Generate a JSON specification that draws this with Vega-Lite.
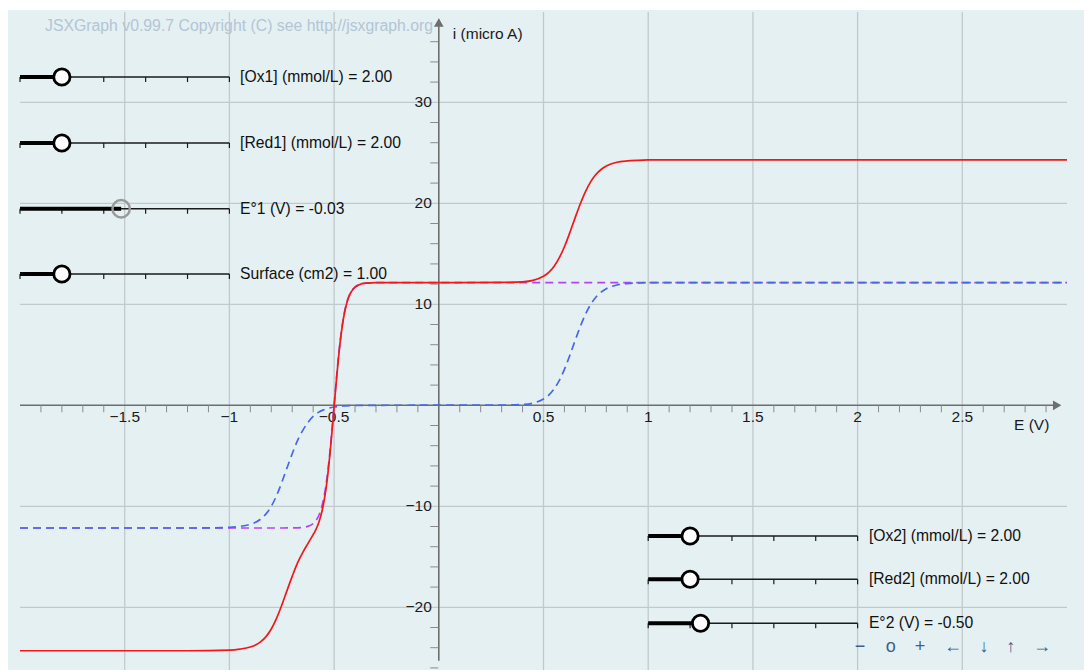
{
  "$schema": "https://vega.github.io/schema/vega-lite/v6.json",
  "width": 1076,
  "height": 660,
  "autosize": {"type": "none"},
  "padding": {"left": 8, "top": 10, "right": 0, "bottom": 0},
  "background": "#ffffff",
  "config": {"view": {"fill": "#e5f0f3", "stroke": null}, "text": {"font": "Liberation Sans"}},
  "datasets": {
    "grid": [
      {"x0": -1.5, "x1": -1.5, "y0": -26.2, "y1": 38.94},
      {"x0": -1, "x1": -1, "y0": -26.2, "y1": 38.94},
      {"x0": -0.5, "x1": -0.5, "y0": -26.2, "y1": 38.94},
      {"x0": 0.5, "x1": 0.5, "y0": -26.2, "y1": 38.94},
      {"x0": 1, "x1": 1, "y0": -26.2, "y1": 38.94},
      {"x0": 1.5, "x1": 1.5, "y0": -26.2, "y1": 38.94},
      {"x0": 2, "x1": 2, "y0": -26.2, "y1": 38.94},
      {"x0": 2.5, "x1": 2.5, "y0": -26.2, "y1": 38.94},
      {"x0": -2, "x1": 3, "y0": -20, "y1": -20},
      {"x0": -2, "x1": 3, "y0": -10, "y1": -10},
      {"x0": -2, "x1": 3, "y0": 10, "y1": 10},
      {"x0": -2, "x1": 3, "y0": 20, "y1": 20},
      {"x0": -2, "x1": 3, "y0": 30, "y1": 30}
    ],
    "axes": [
      {"x0": -2, "x1": 2.96, "y0": 0, "y1": 0},
      {"x0": 0, "x1": 0, "y0": -25.3, "y1": 38.2}
    ],
    "xticks": [
      {"x": -1.9, "y": 0}, {"x": -1.8, "y": 0}, {"x": -1.7, "y": 0}, {"x": -1.6, "y": 0},
      {"x": -1.4, "y": 0}, {"x": -1.3, "y": 0}, {"x": -1.2, "y": 0}, {"x": -1.1, "y": 0},
      {"x": -0.9, "y": 0}, {"x": -0.8, "y": 0}, {"x": -0.7, "y": 0}, {"x": -0.6, "y": 0},
      {"x": -0.4, "y": 0}, {"x": -0.3, "y": 0}, {"x": -0.2, "y": 0}, {"x": -0.1, "y": 0},
      {"x": 0.1, "y": 0}, {"x": 0.2, "y": 0}, {"x": 0.3, "y": 0}, {"x": 0.4, "y": 0},
      {"x": 0.6, "y": 0}, {"x": 0.7, "y": 0}, {"x": 0.8, "y": 0}, {"x": 0.9, "y": 0},
      {"x": 1.1, "y": 0}, {"x": 1.2, "y": 0}, {"x": 1.3, "y": 0}, {"x": 1.4, "y": 0},
      {"x": 1.6, "y": 0}, {"x": 1.7, "y": 0}, {"x": 1.8, "y": 0}, {"x": 1.9, "y": 0},
      {"x": 2.1, "y": 0}, {"x": 2.2, "y": 0}, {"x": 2.3, "y": 0}, {"x": 2.4, "y": 0},
      {"x": 2.6, "y": 0}, {"x": 2.7, "y": 0}, {"x": 2.8, "y": 0}, {"x": 2.9, "y": 0}
    ],
    "yticks": [
      {"x": 0, "y": -26}, {"x": 0, "y": -24}, {"x": 0, "y": -22}, {"x": 0, "y": -18},
      {"x": 0, "y": -16}, {"x": 0, "y": -14}, {"x": 0, "y": -12}, {"x": 0, "y": -8},
      {"x": 0, "y": -6}, {"x": 0, "y": -4}, {"x": 0, "y": -2}, {"x": 0, "y": 2},
      {"x": 0, "y": 4}, {"x": 0, "y": 6}, {"x": 0, "y": 8}, {"x": 0, "y": 12},
      {"x": 0, "y": 14}, {"x": 0, "y": 16}, {"x": 0, "y": 18}, {"x": 0, "y": 22},
      {"x": 0, "y": 24}, {"x": 0, "y": 26}, {"x": 0, "y": 28}, {"x": 0, "y": 32},
      {"x": 0, "y": 34}, {"x": 0, "y": 36}
    ],
    "xlabels": [
      {"x": -1.5, "y": 0, "t": "−1.5"}, {"x": -1, "y": 0, "t": "−1"}, {"x": -0.5, "y": 0, "t": "−0.5"},
      {"x": 0.5, "y": 0, "t": "0.5"}, {"x": 1, "y": 0, "t": "1"}, {"x": 1.5, "y": 0, "t": "1.5"},
      {"x": 2, "y": 0, "t": "2"}, {"x": 2.5, "y": 0, "t": "2.5"}
    ],
    "ylabels": [
      {"x": 0, "y": 30, "t": "30"}, {"x": 0, "y": 20, "t": "20"}, {"x": 0, "y": 10, "t": "10"},
      {"x": 0, "y": -10, "t": "−10"}, {"x": 0, "y": -20, "t": "−20"}
    ],
    "titles": [
      {"x": 0.067, "y": 36.73, "t": "i (micro A)"},
      {"x": 2.747, "y": -1.95, "t": "E (V)"}
    ],
    "purple": [
      {"x": -2, "y": -12.15}, {"x": -0.75, "y": -12.15}, {"x": -0.7, "y": -12.14}, {"x": -0.675, "y": -12.13},
      {"x": -0.65, "y": -12.09}, {"x": -0.625, "y": -11.99}, {"x": -0.6, "y": -11.71}, {"x": -0.59, "y": -11.5},
      {"x": -0.58, "y": -11.2}, {"x": -0.57, "y": -10.76}, {"x": -0.56, "y": -10.13}, {"x": -0.55, "y": -9.25},
      {"x": -0.54, "y": -8.07}, {"x": -0.53, "y": -6.52}, {"x": -0.52, "y": -4.62}, {"x": -0.51, "y": -2.4},
      {"x": -0.5, "y": 0}, {"x": -0.49, "y": 2.4}, {"x": -0.48, "y": 4.62}, {"x": -0.47, "y": 6.52},
      {"x": -0.46, "y": 8.07}, {"x": -0.45, "y": 9.25}, {"x": -0.44, "y": 10.13}, {"x": -0.43, "y": 10.76},
      {"x": -0.42, "y": 11.2}, {"x": -0.41, "y": 11.5}, {"x": -0.4, "y": 11.71}, {"x": -0.375, "y": 11.99},
      {"x": -0.35, "y": 12.09}, {"x": -0.325, "y": 12.13}, {"x": -0.3, "y": 12.14}, {"x": -0.25, "y": 12.15},
      {"x": 3, "y": 12.15}
    ],
    "blue": [
      {"x": -2, "y": -12.15}, {"x": -1.2, "y": -12.15}, {"x": -1.1, "y": -12.14}, {"x": -1.0, "y": -12.09},
      {"x": -0.95, "y": -11.99}, {"x": -0.9, "y": -11.78}, {"x": -0.875, "y": -11.58}, {"x": -0.85, "y": -11.25},
      {"x": -0.825, "y": -10.75}, {"x": -0.8, "y": -10.0}, {"x": -0.775, "y": -8.95}, {"x": -0.75, "y": -7.65},
      {"x": -0.725, "y": -6.2}, {"x": -0.7, "y": -4.8}, {"x": -0.675, "y": -3.5}, {"x": -0.65, "y": -2.5},
      {"x": -0.625, "y": -1.7}, {"x": -0.6, "y": -1.1}, {"x": -0.575, "y": -0.7}, {"x": -0.55, "y": -0.45},
      {"x": -0.5, "y": -0.17}, {"x": -0.45, "y": -0.06}, {"x": -0.4, "y": -0.02}, {"x": -0.3, "y": 0},
      {"x": 0.3, "y": 0.02}, {"x": 0.4, "y": 0.08}, {"x": 0.45, "y": 0.22}, {"x": 0.5, "y": 0.62},
      {"x": 0.525, "y": 1.0}, {"x": 0.55, "y": 1.6}, {"x": 0.575, "y": 2.45}, {"x": 0.6, "y": 3.55},
      {"x": 0.625, "y": 4.9}, {"x": 0.65, "y": 6.36}, {"x": 0.675, "y": 7.76}, {"x": 0.7, "y": 8.99},
      {"x": 0.725, "y": 9.97}, {"x": 0.75, "y": 10.7}, {"x": 0.775, "y": 11.2}, {"x": 0.8, "y": 11.54},
      {"x": 0.85, "y": 11.91}, {"x": 0.9, "y": 12.05}, {"x": 0.95, "y": 12.11}, {"x": 1.0, "y": 12.14},
      {"x": 1.1, "y": 12.15}, {"x": 3, "y": 12.15}
    ],
    "red": [
      {"x": -2, "y": -24.3}, {"x": -1.2, "y": -24.3}, {"x": -1.0, "y": -24.24}, {"x": -0.95, "y": -24.14},
      {"x": -0.9, "y": -23.93}, {"x": -0.875, "y": -23.73}, {"x": -0.85, "y": -23.4}, {"x": -0.825, "y": -22.9},
      {"x": -0.8, "y": -22.15}, {"x": -0.775, "y": -21.1}, {"x": -0.75, "y": -19.8}, {"x": -0.725, "y": -18.35},
      {"x": -0.7, "y": -16.94}, {"x": -0.675, "y": -15.63}, {"x": -0.65, "y": -14.59}, {"x": -0.625, "y": -13.69},
      {"x": -0.6, "y": -12.81}, {"x": -0.59, "y": -12.44}, {"x": -0.58, "y": -11.98}, {"x": -0.57, "y": -11.4},
      {"x": -0.56, "y": -10.67}, {"x": -0.55, "y": -9.7}, {"x": -0.54, "y": -8.45}, {"x": -0.53, "y": -6.84},
      {"x": -0.52, "y": -4.89}, {"x": -0.51, "y": -2.62}, {"x": -0.5, "y": -0.17}, {"x": -0.49, "y": 2.26},
      {"x": -0.48, "y": 4.5}, {"x": -0.47, "y": 6.42}, {"x": -0.46, "y": 7.99}, {"x": -0.45, "y": 9.19},
      {"x": -0.44, "y": 10.08}, {"x": -0.43, "y": 10.72}, {"x": -0.42, "y": 11.17}, {"x": -0.41, "y": 11.47},
      {"x": -0.4, "y": 11.69}, {"x": -0.38, "y": 11.94}, {"x": -0.35, "y": 12.09}, {"x": -0.3, "y": 12.14},
      {"x": 0, "y": 12.15}, {"x": 0.3, "y": 12.17}, {"x": 0.4, "y": 12.23}, {"x": 0.45, "y": 12.37},
      {"x": 0.5, "y": 12.77}, {"x": 0.525, "y": 13.15}, {"x": 0.55, "y": 13.75}, {"x": 0.575, "y": 14.6},
      {"x": 0.6, "y": 15.7}, {"x": 0.625, "y": 17.05}, {"x": 0.65, "y": 18.51}, {"x": 0.675, "y": 19.91},
      {"x": 0.7, "y": 21.14}, {"x": 0.725, "y": 22.12}, {"x": 0.75, "y": 22.85}, {"x": 0.775, "y": 23.35},
      {"x": 0.8, "y": 23.69}, {"x": 0.85, "y": 24.06}, {"x": 0.9, "y": 24.2}, {"x": 0.95, "y": 24.26},
      {"x": 1.0, "y": 24.29}, {"x": 1.1, "y": 24.3}, {"x": 3, "y": 24.3}
    ],
    "sliders": [
      {"x0": -2, "x1": -1, "xk": -1.8, "y": 32.5, "lx": -0.949, "label": "[Ox1] (mmol/L) = 2.00", "active": false, "ticks": [-2, -1.8, -1.6, -1.4, -1.2, -1]},
      {"x0": -2, "x1": -1, "xk": -1.8, "y": 25.97, "lx": -0.949, "label": "[Red1] (mmol/L) = 2.00", "active": false, "ticks": [-2, -1.8, -1.6, -1.4, -1.2, -1]},
      {"x0": -2, "x1": -1, "xk": -1.517, "y": 19.46, "lx": -0.949, "label": "E°1 (V) = -0.03", "active": true, "ticks": [-2, -1.8, -1.6, -1.4, -1.2, -1]},
      {"x0": -2, "x1": -1, "xk": -1.8, "y": 13.0, "lx": -0.949, "label": "Surface (cm2) = 1.00", "active": false, "ticks": [-2, -1.8, -1.6, -1.4, -1.2, -1]},
      {"x0": 1, "x1": 2, "xk": 1.2, "y": -12.94, "lx": 2.054, "label": "[Ox2] (mmol/L) = 2.00", "active": false, "ticks": [1, 1.2, 1.4, 1.6, 1.8, 2]},
      {"x0": 1, "x1": 2, "xk": 1.2, "y": -17.23, "lx": 2.054, "label": "[Red2] (mmol/L) = 2.00", "active": false, "ticks": [1, 1.2, 1.4, 1.6, 1.8, 2]},
      {"x0": 1, "x1": 2, "xk": 1.25, "y": -21.58, "lx": 2.054, "label": "E°2 (V) = -0.50", "active": false, "ticks": [1, 1.2, 1.4, 1.6, 1.8, 2]}
    ],
    "nav": [
      {"x": 2.011, "y": -23.9, "t": "−"}, {"x": 2.158, "y": -23.9, "t": "o"}, {"x": 2.298, "y": -23.9, "t": "+"},
      {"x": 2.456, "y": -23.9, "t": "←"}, {"x": 2.604, "y": -23.9, "t": "↓"}, {"x": 2.731, "y": -23.9, "t": "↑"},
      {"x": 2.881, "y": -23.9, "t": "→"}
    ]
  },
  "layer": [
    {
      "data": {"name": "grid"},
      "mark": {"type": "rule", "stroke": "#c2c9cc", "strokeWidth": 1.3},
      "encoding": {
        "x": {"field": "x0", "type": "quantitative", "scale": {"domain": [-2.0573, 3.0812], "nice": false, "zero": false}, "axis": null},
        "x2": {"field": "x1"},
        "y": {"field": "y0", "type": "quantitative", "scale": {"domain": [-26.208, 39.139], "nice": false, "zero": false}, "axis": null},
        "y2": {"field": "y1"}
      }
    },
    {
      "data": {"name": "axes"},
      "mark": {"type": "rule", "stroke": "#6e6e6e", "strokeWidth": 1.6},
      "encoding": {
        "x": {"field": "x0", "type": "quantitative", "scale": {"domain": [-2.0573, 3.0812], "nice": false, "zero": false}, "axis": null},
        "x2": {"field": "x1"},
        "y": {"field": "y0", "type": "quantitative", "scale": {"domain": [-26.208, 39.139], "nice": false, "zero": false}, "axis": null},
        "y2": {"field": "y1"}
      }
    },
    {
      "data": {"values": [{"x": 2.953, "y": 0}]},
      "mark": {"type": "point", "shape": "triangle-right", "filled": true, "fill": "#6e6e6e", "opacity": 1, "size": 95},
      "encoding": {
        "x": {"field": "x", "type": "quantitative", "scale": {"domain": [-2.0573, 3.0812], "nice": false, "zero": false}, "axis": null},
        "y": {"field": "y", "type": "quantitative", "scale": {"domain": [-26.208, 39.139], "nice": false, "zero": false}, "axis": null}
      }
    },
    {
      "data": {"values": [{"x": 0, "y": 37.9}]},
      "mark": {"type": "point", "shape": "triangle-up", "filled": true, "fill": "#6e6e6e", "opacity": 1, "size": 95},
      "encoding": {
        "x": {"field": "x", "type": "quantitative", "scale": {"domain": [-2.0573, 3.0812], "nice": false, "zero": false}, "axis": null},
        "y": {"field": "y", "type": "quantitative", "scale": {"domain": [-26.208, 39.139], "nice": false, "zero": false}, "axis": null}
      }
    },
    {
      "data": {"name": "xticks"},
      "mark": {"type": "tick", "orient": "vertical", "color": "#8a8a8a", "thickness": 1, "size": 7, "yOffset": 3.5, "opacity": 1},
      "encoding": {
        "x": {"field": "x", "type": "quantitative", "scale": {"domain": [-2.0573, 3.0812], "nice": false, "zero": false}, "axis": null},
        "y": {"field": "y", "type": "quantitative", "scale": {"domain": [-26.208, 39.139], "nice": false, "zero": false}, "axis": null}
      }
    },
    {
      "data": {"name": "yticks"},
      "mark": {"type": "tick", "orient": "horizontal", "color": "#8a8a8a", "thickness": 1, "size": 8, "xOffset": -4.5, "opacity": 1},
      "encoding": {
        "x": {"field": "x", "type": "quantitative", "scale": {"domain": [-2.0573, 3.0812], "nice": false, "zero": false}, "axis": null},
        "y": {"field": "y", "type": "quantitative", "scale": {"domain": [-26.208, 39.139], "nice": false, "zero": false}, "axis": null}
      }
    },
    {
      "data": {"name": "xlabels"},
      "mark": {"type": "text", "align": "center", "baseline": "middle", "dy": 11.5, "fontSize": 15.5, "fill": "#1a1a1a"},
      "encoding": {
        "x": {"field": "x", "type": "quantitative", "scale": {"domain": [-2.0573, 3.0812], "nice": false, "zero": false}, "axis": null},
        "y": {"field": "y", "type": "quantitative", "scale": {"domain": [-26.208, 39.139], "nice": false, "zero": false}, "axis": null},
        "text": {"field": "t"}
      }
    },
    {
      "data": {"name": "ylabels"},
      "mark": {"type": "text", "align": "right", "baseline": "middle", "dx": -7, "fontSize": 15.5, "fill": "#1a1a1a"},
      "encoding": {
        "x": {"field": "x", "type": "quantitative", "scale": {"domain": [-2.0573, 3.0812], "nice": false, "zero": false}, "axis": null},
        "y": {"field": "y", "type": "quantitative", "scale": {"domain": [-26.208, 39.139], "nice": false, "zero": false}, "axis": null},
        "text": {"field": "t"}
      }
    },
    {
      "data": {"name": "titles"},
      "mark": {"type": "text", "align": "left", "baseline": "middle", "fontSize": 15.5, "fill": "#1a1a1a"},
      "encoding": {
        "x": {"field": "x", "type": "quantitative", "scale": {"domain": [-2.0573, 3.0812], "nice": false, "zero": false}, "axis": null},
        "y": {"field": "y", "type": "quantitative", "scale": {"domain": [-26.208, 39.139], "nice": false, "zero": false}, "axis": null},
        "text": {"field": "t"}
      }
    },
    {
      "data": {"values": [{"x": -1.8806, "y": 37.55, "t": "JSXGraph v0.99.7 Copyright (C) see http://jsxgraph.org"}]},
      "mark": {"type": "text", "align": "left", "baseline": "middle", "fontSize": 15.8, "fill": "#b3c5d5"},
      "encoding": {
        "x": {"field": "x", "type": "quantitative", "scale": {"domain": [-2.0573, 3.0812], "nice": false, "zero": false}, "axis": null},
        "y": {"field": "y", "type": "quantitative", "scale": {"domain": [-26.208, 39.139], "nice": false, "zero": false}, "axis": null},
        "text": {"field": "t"}
      }
    },
    {
      "data": {"name": "purple"},
      "mark": {"type": "line", "stroke": "#b545f0", "strokeWidth": 1.7, "strokeDash": [8, 5], "interpolate": "monotone"},
      "encoding": {
        "x": {"field": "x", "type": "quantitative", "scale": {"domain": [-2.0573, 3.0812], "nice": false, "zero": false}, "axis": null},
        "y": {"field": "y", "type": "quantitative", "scale": {"domain": [-26.208, 39.139], "nice": false, "zero": false}, "axis": null}
      }
    },
    {
      "data": {"name": "blue"},
      "mark": {"type": "line", "stroke": "#4a68e4", "strokeWidth": 1.7, "strokeDash": [8, 5], "interpolate": "monotone"},
      "encoding": {
        "x": {"field": "x", "type": "quantitative", "scale": {"domain": [-2.0573, 3.0812], "nice": false, "zero": false}, "axis": null},
        "y": {"field": "y", "type": "quantitative", "scale": {"domain": [-26.208, 39.139], "nice": false, "zero": false}, "axis": null}
      }
    },
    {
      "data": {"name": "red"},
      "mark": {"type": "line", "stroke": "#f01818", "strokeWidth": 1.7, "interpolate": "monotone"},
      "encoding": {
        "x": {"field": "x", "type": "quantitative", "scale": {"domain": [-2.0573, 3.0812], "nice": false, "zero": false}, "axis": null},
        "y": {"field": "y", "type": "quantitative", "scale": {"domain": [-26.208, 39.139], "nice": false, "zero": false}, "axis": null}
      }
    },
    {
      "data": {"name": "sliders"},
      "mark": {"type": "rule", "stroke": "#1a1a1a", "strokeWidth": 1.5},
      "encoding": {
        "x": {"field": "x0", "type": "quantitative", "scale": {"domain": [-2.0573, 3.0812], "nice": false, "zero": false}, "axis": null},
        "x2": {"field": "x1"},
        "y": {"field": "y", "type": "quantitative", "scale": {"domain": [-26.208, 39.139], "nice": false, "zero": false}, "axis": null}
      }
    },
    {
      "data": {"name": "sliders"},
      "transform": [{"flatten": ["ticks"]}],
      "mark": {"type": "tick", "orient": "vertical", "color": "#1a1a1a", "thickness": 1.2, "size": 5, "yOffset": 2.5, "opacity": 1},
      "encoding": {
        "x": {"field": "ticks", "type": "quantitative", "scale": {"domain": [-2.0573, 3.0812], "nice": false, "zero": false}, "axis": null},
        "y": {"field": "y", "type": "quantitative", "scale": {"domain": [-26.208, 39.139], "nice": false, "zero": false}, "axis": null}
      }
    },
    {
      "data": {"name": "sliders"},
      "mark": {"type": "rule", "stroke": "#000000", "strokeWidth": 4},
      "encoding": {
        "x": {"field": "x0", "type": "quantitative", "scale": {"domain": [-2.0573, 3.0812], "nice": false, "zero": false}, "axis": null},
        "x2": {"field": "xk"},
        "y": {"field": "y", "type": "quantitative", "scale": {"domain": [-26.208, 39.139], "nice": false, "zero": false}, "axis": null}
      }
    },
    {
      "data": {"name": "sliders"},
      "transform": [{"filter": "!datum.active"}],
      "mark": {"type": "point", "shape": "circle", "filled": true, "fill": "#ffffff", "stroke": "#000000", "strokeWidth": 2.8, "size": 265, "opacity": 1},
      "encoding": {
        "x": {"field": "xk", "type": "quantitative", "scale": {"domain": [-2.0573, 3.0812], "nice": false, "zero": false}, "axis": null},
        "y": {"field": "y", "type": "quantitative", "scale": {"domain": [-26.208, 39.139], "nice": false, "zero": false}, "axis": null}
      }
    },
    {
      "data": {"name": "sliders"},
      "transform": [{"filter": "datum.active"}],
      "mark": {"type": "point", "shape": "circle", "filled": false, "stroke": "#9a9a9a", "strokeWidth": 2.5, "size": 300, "opacity": 1},
      "encoding": {
        "x": {"field": "xk", "type": "quantitative", "scale": {"domain": [-2.0573, 3.0812], "nice": false, "zero": false}, "axis": null},
        "y": {"field": "y", "type": "quantitative", "scale": {"domain": [-26.208, 39.139], "nice": false, "zero": false}, "axis": null}
      }
    },
    {
      "data": {"name": "sliders"},
      "mark": {"type": "text", "align": "left", "baseline": "middle", "fontSize": 15.7, "fill": "#111111"},
      "encoding": {
        "x": {"field": "lx", "type": "quantitative", "scale": {"domain": [-2.0573, 3.0812], "nice": false, "zero": false}, "axis": null},
        "y": {"field": "y", "type": "quantitative", "scale": {"domain": [-26.208, 39.139], "nice": false, "zero": false}, "axis": null},
        "text": {"field": "label"}
      }
    },
    {
      "data": {"name": "nav"},
      "mark": {"type": "text", "align": "center", "baseline": "middle", "fontSize": 18, "fill": "#3d5f8c"},
      "encoding": {
        "x": {"field": "x", "type": "quantitative", "scale": {"domain": [-2.0573, 3.0812], "nice": false, "zero": false}, "axis": null},
        "y": {"field": "y", "type": "quantitative", "scale": {"domain": [-26.208, 39.139], "nice": false, "zero": false}, "axis": null},
        "text": {"field": "t"}
      }
    }
  ]
}
